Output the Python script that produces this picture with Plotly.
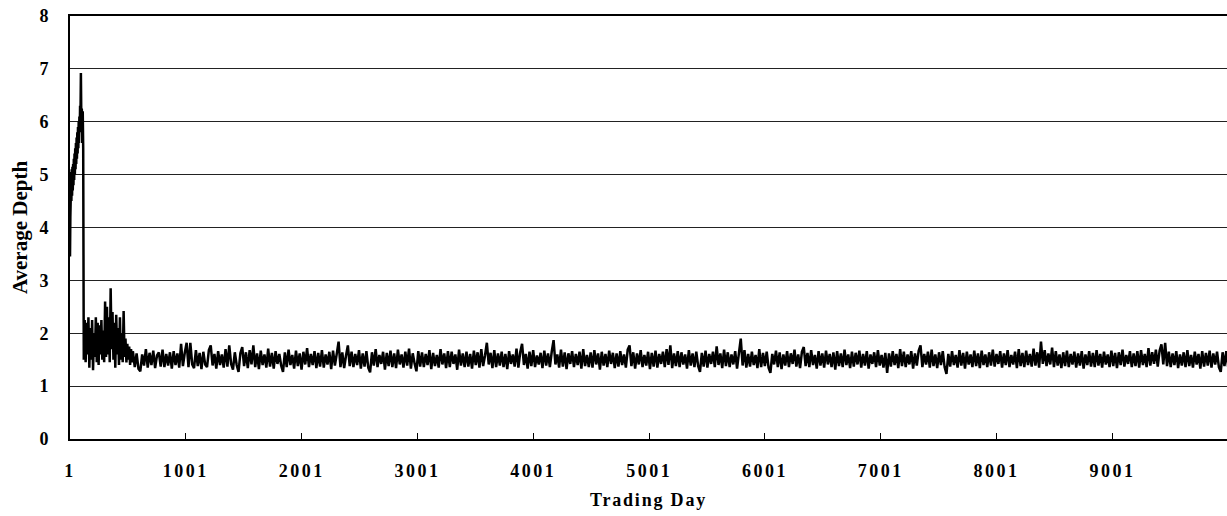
import plotly.graph_objects as go

# ---- data ----
# early phase: (day, average depth)
early_days = [1, 4, 7, 10, 13, 16, 19, 22, 25, 28, 31, 34, 37, 40, 43, 46, 49, 52, 55, 58,
              61, 64, 67, 70, 73, 76, 79, 82, 85, 88, 91, 95, 99, 103, 107, 111, 115, 119]
early_depth = [3.45, 4.2, 4.5, 5.05, 4.5, 5.1, 4.6, 5.15, 4.7, 5.2, 4.8, 5.3, 4.9, 5.4, 5.0, 5.5, 5.1, 5.6, 5.2, 5.7,
               5.3, 5.8, 5.4, 5.9, 5.5, 6.0, 5.6, 6.1, 5.8, 6.3, 6.0, 6.92, 6.0, 6.25, 5.6, 6.2, 5.5, 2.2]

# turbulent phase, every 8 days from day 120
turbulent_start, turbulent_step = 120, 8
turbulent_depth = [1.5, 2.25, 1.45, 2.2, 1.6, 2.3, 1.35, 2.1, 1.5, 2.25, 1.3, 2.0, 1.55, 2.3, 1.45, 2.2, 1.4, 2.15,
                   1.6, 2.25, 1.5, 2.05, 1.45, 2.6, 1.55, 2.5, 1.6, 2.3, 1.45, 2.85, 1.7, 2.4, 1.5, 2.2, 1.35, 2.35,
                   1.6, 2.1, 1.4, 2.3, 1.5, 2.0, 1.45, 2.42, 1.55, 1.9, 1.45, 1.8, 1.5, 1.75, 1.4, 1.7, 1.45]

# steady phase, every 16 days from day 544
steady_start, steady_step = 544, 16
steady_depth = [
    1.66, 1.36, 1.62, 1.33, 1.28, 1.60, 1.39, 1.70, 1.35, 1.63, 1.40, 1.67, 1.34, 1.58, 1.64, 1.37, 1.69, 1.36, 1.61, 1.39,
    1.64, 1.33, 1.66, 1.40, 1.62, 1.35, 1.80, 1.38, 1.63, 1.82, 1.36, 1.82, 1.41, 1.34, 1.68, 1.38, 1.63, 1.32, 1.65, 1.41,
    1.36, 1.68, 1.77, 1.39, 1.61, 1.33, 1.66, 1.40, 1.60, 1.35, 1.70, 1.37, 1.77, 1.42, 1.31, 1.64, 1.40, 1.27, 1.62, 1.74,
    1.38, 1.64, 1.34, 1.68, 1.41, 1.77, 1.36, 1.62, 1.32, 1.67, 1.40, 1.60, 1.35, 1.71, 1.37, 1.63, 1.33, 1.66, 1.42, 1.61,
    1.39, 1.27, 1.64, 1.36, 1.69, 1.40, 1.59, 1.33, 1.67, 1.38, 1.62, 1.31, 1.65, 1.41, 1.72, 1.36, 1.61, 1.40, 1.66, 1.34,
    1.63, 1.37, 1.68, 1.35, 1.60, 1.41, 1.65, 1.32, 1.67, 1.39, 1.61, 1.84, 1.36, 1.64, 1.34, 1.58, 1.77, 1.38, 1.65, 1.36,
    1.61, 1.40, 1.68, 1.33, 1.62, 1.37, 1.66, 1.35, 1.26, 1.64, 1.39, 1.70, 1.36, 1.59, 1.42, 1.65, 1.31, 1.63, 1.38, 1.67,
    1.36, 1.62, 1.34, 1.69, 1.41, 1.60, 1.35, 1.65, 1.39, 1.71, 1.33, 1.62, 1.43, 1.28, 1.66, 1.37, 1.64, 1.36, 1.61, 1.40,
    1.68, 1.32, 1.63, 1.38, 1.59, 1.35, 1.70, 1.41, 1.62, 1.34, 1.66, 1.36, 1.65, 1.42, 1.60, 1.31, 1.69, 1.39, 1.62, 1.36,
    1.65, 1.37, 1.61, 1.33, 1.67, 1.40, 1.64, 1.35, 1.70, 1.38, 1.58, 1.82, 1.41, 1.63, 1.34, 1.68, 1.36, 1.62, 1.39, 1.65,
    1.36, 1.61, 1.32, 1.66, 1.42, 1.60, 1.37, 1.71, 1.35, 1.64, 1.80, 1.40, 1.61, 1.33, 1.65, 1.38, 1.68, 1.36, 1.58, 1.41,
    1.63, 1.34, 1.67, 1.39, 1.62, 1.36, 1.65, 1.87, 1.41, 1.60, 1.35, 1.69, 1.37, 1.64, 1.32, 1.62, 1.42, 1.66, 1.36, 1.61,
    1.40, 1.65, 1.33, 1.70, 1.38, 1.59, 1.36, 1.64, 1.35, 1.68, 1.41, 1.62, 1.31, 1.65, 1.39, 1.61, 1.36, 1.67, 1.42, 1.63,
    1.34, 1.62, 1.37, 1.66, 1.40, 1.60, 1.35, 1.69, 1.77, 1.38, 1.64, 1.33, 1.62, 1.41, 1.68, 1.36, 1.59, 1.39, 1.65, 1.32,
    1.63, 1.37, 1.67, 1.35, 1.61, 1.42, 1.65, 1.36, 1.70, 1.40, 1.77, 1.34, 1.62, 1.38, 1.66, 1.36, 1.64, 1.41, 1.60, 1.33,
    1.68, 1.39, 1.62, 1.36, 1.65, 1.38, 1.27, 1.63, 1.37, 1.67, 1.35, 1.61, 1.42, 1.65, 1.36, 1.75, 1.40, 1.62, 1.34, 1.69,
    1.38, 1.64, 1.36, 1.60, 1.41, 1.66, 1.33, 1.62, 1.90, 1.39, 1.68, 1.35, 1.61, 1.37, 1.65, 1.40, 1.59, 1.34, 1.70, 1.36,
    1.63, 1.38, 1.65, 1.35, 1.25, 1.61, 1.41, 1.67, 1.36, 1.64, 1.32, 1.60, 1.39, 1.66, 1.36, 1.62, 1.42, 1.69, 1.37, 1.60,
    1.34, 1.65, 1.74, 1.38, 1.63, 1.36, 1.68, 1.40, 1.59, 1.33, 1.66, 1.39, 1.62, 1.35, 1.67, 1.41, 1.61, 1.36, 1.64, 1.31,
    1.66, 1.38, 1.62, 1.36, 1.69, 1.40, 1.60, 1.34, 1.65, 1.37, 1.63, 1.41, 1.67, 1.35, 1.61, 1.39, 1.66, 1.33, 1.60, 1.42,
    1.64, 1.36, 1.68, 1.39, 1.59, 1.35, 1.63, 1.25, 1.62, 1.37, 1.66, 1.40, 1.61, 1.34, 1.70, 1.38, 1.65, 1.36, 1.60, 1.41,
    1.66, 1.33, 1.62, 1.39, 1.67, 1.77, 1.36, 1.61, 1.41, 1.65, 1.35, 1.69, 1.38, 1.60, 1.34, 1.64, 1.40, 1.66, 1.36, 1.23,
    1.61, 1.37, 1.66, 1.40, 1.59, 1.35, 1.68, 1.39, 1.63, 1.33, 1.65, 1.41, 1.60, 1.36, 1.67, 1.38, 1.62, 1.34, 1.67, 1.40,
    1.60, 1.36, 1.64, 1.39, 1.69, 1.37, 1.61, 1.42, 1.66, 1.35, 1.62, 1.40, 1.68, 1.36, 1.59, 1.41, 1.65, 1.34, 1.70, 1.38,
    1.63, 1.36, 1.67, 1.40, 1.61, 1.37, 1.71, 1.39, 1.64, 1.35, 1.84, 1.42, 1.68, 1.38, 1.62, 1.41, 1.73, 1.36, 1.66, 1.39,
    1.60, 1.34, 1.64, 1.38, 1.67, 1.36, 1.61, 1.41, 1.65, 1.35, 1.62, 1.39, 1.66, 1.33, 1.60, 1.40, 1.66, 1.37, 1.63, 1.36,
    1.68, 1.39, 1.61, 1.35, 1.65, 1.41, 1.60, 1.36, 1.67, 1.38, 1.63, 1.34, 1.64, 1.40, 1.69, 1.37, 1.59, 1.42, 1.66, 1.36,
    1.62, 1.38, 1.66, 1.35, 1.68, 1.40, 1.61, 1.36, 1.72, 1.39, 1.64, 1.42, 1.69, 1.37, 1.67, 1.79, 1.41, 1.82, 1.38, 1.65,
    1.36, 1.62, 1.40, 1.66, 1.34, 1.60, 1.39, 1.64, 1.36, 1.68, 1.38, 1.59, 1.35, 1.65, 1.41, 1.61, 1.33, 1.66, 1.37, 1.63,
    1.39, 1.67, 1.35, 1.62, 1.41, 1.65, 1.36, 1.27, 1.64, 1.38, 1.66, 1.36, 1.60, 1.40, 1.63, 1.37, 1.66, 1.35, 1.61, 1.41,
]

x_tick_values = [1, 1001, 2001, 3001, 4001, 5001, 6001, 7001, 8001, 9001]
x_tick_labels = ["1", "1001", "2001", "3001", "4001", "5001", "6001", "7001", "8001", "9001"]
y_tick_values = [0, 1, 2, 3, 4, 5, 6, 7, 8]

# ---- assemble series ----
turbulent_days = [turbulent_start + turbulent_step * i for i in range(len(turbulent_depth))]
steady_days = [steady_start + steady_step * i for i in range(len(steady_depth))]
days = early_days + turbulent_days + steady_days
depth = early_depth + turbulent_depth + steady_depth

FONT = "Liberation Serif, Times New Roman, serif"

fig = go.Figure()
fig.add_trace(go.Scatter(x=days, y=depth, mode="lines",
                         line=dict(color="black", width=2.5, simplify=False),
                         showlegend=False, hoverinfo="skip"))

spaced = lambda s, sp: f'<span style="letter-spacing:{sp}px">{s}</span>'

fig.update_layout(
    width=1227, height=516,
    margin=dict(l=70, r=0, t=16, b=77),
    paper_bgcolor="white", plot_bgcolor="white",
    font=dict(family=FONT, size=18, color="black", weight="bold"),
    xaxis=dict(
        range=[1, 9990],
        tickmode="array", tickvals=x_tick_values,
        ticktext=[spaced(t, 2.5) for t in x_tick_labels],
        ticks="inside", ticklen=6, tickwidth=1, tickcolor="black",
        showgrid=False, zeroline=False,
        showline=True, linecolor="black", linewidth=2, mirror=True,
        ticklabelstandoff=14,
        tickfont=dict(family=FONT, size=18, color="black", weight="bold"),
        title=dict(text=spaced("Trading Day", 1.8),
                   font=dict(family=FONT, size=18, color="black", weight="bold"),
                   standoff=14),
    ),
    yaxis=dict(
        range=[0, 8], tickmode="array", tickvals=y_tick_values,
        showgrid=True, gridcolor="#222222", gridwidth=1,
        zeroline=False, ticks="",
        showline=True, linecolor="black", linewidth=2,
        ticklabelstandoff=16,
        tickfont=dict(family=FONT, size=18, color="black", weight="bold"),
        title=dict(text="Average Depth",
                   font=dict(family=FONT, size=21, color="black", weight="bold"),
                   standoff=6),
    ),
)

fig.write_html("out.html")
